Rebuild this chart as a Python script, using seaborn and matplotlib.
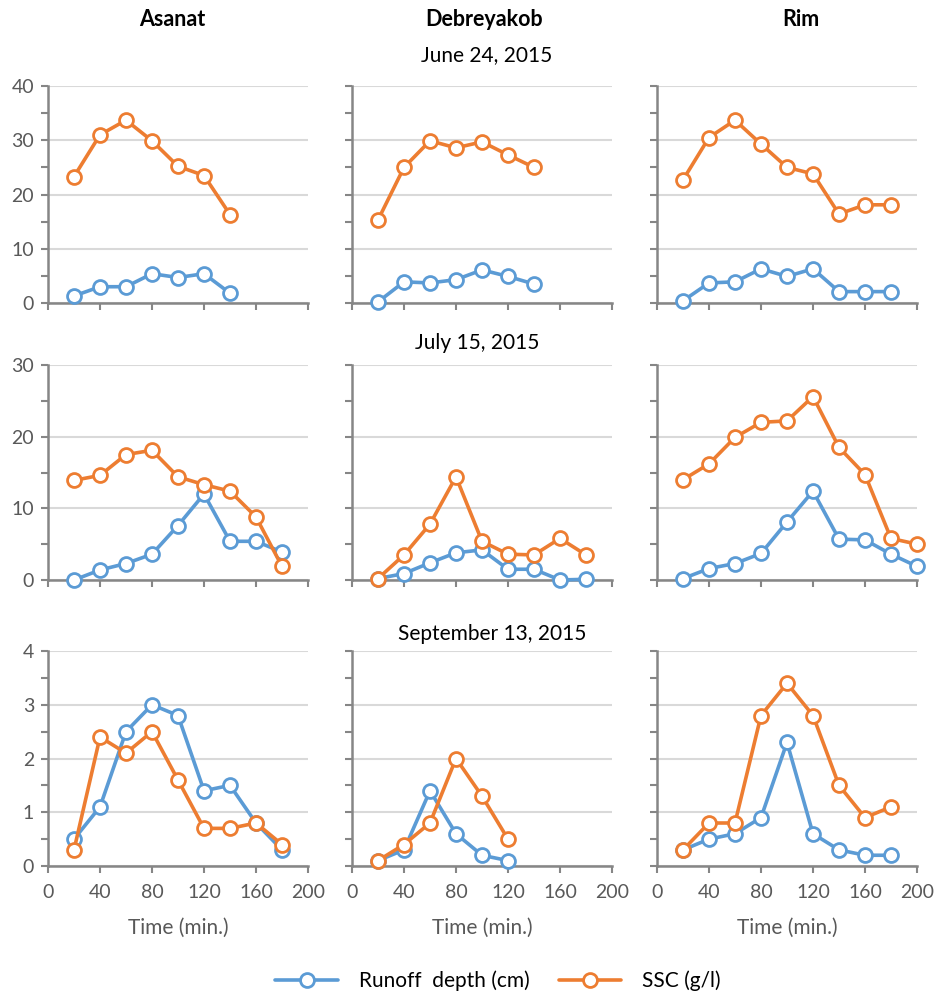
import numpy as np
import pandas as pd
import seaborn as sns
import matplotlib.pyplot as plt
from matplotlib.lines import Line2D
from matplotlib.ticker import MultipleLocator

# time steps (min.)
time = [20, 40, 60, 80, 100, 120, 140, 160, 180, 200]

sites = ["Asanat", "Debreyakob", "Rim"]
dates = ["June 24, 2015", "July 15, 2015", "September 13, 2015"]

# June 24, 2015
asanat_jun_runoff = [1.3, 3.0, 3.0, 5.4, 4.7, 5.4, 1.8]
asanat_jun_ssc = [23.3, 31.0, 33.7, 29.9, 25.2, 23.5, 16.3]
debre_jun_runoff = [0.2, 3.9, 3.7, 4.3, 6.1, 4.9, 3.5]
debre_jun_ssc = [15.3, 25.0, 29.9, 28.6, 29.7, 27.3, 25.0]
rim_jun_runoff = [0.4, 3.7, 3.9, 6.3, 4.9, 6.3, 2.1, 2.1, 2.1]
rim_jun_ssc = [22.7, 30.5, 33.7, 29.3, 25.0, 23.8, 16.4, 18.1, 18.1]

# July 15, 2015
asanat_jul_runoff = [0.0, 1.4, 2.3, 3.6, 7.6, 12.0, 5.4, 5.4, 3.9]
asanat_jul_ssc = [13.9, 14.6, 17.5, 18.1, 14.4, 13.3, 12.4, 8.8, 1.9]
debre_jul_runoff = [0.2, 0.9, 2.4, 3.8, 4.2, 1.5, 1.5, 0.0, 0.1]
debre_jul_ssc = [0.2, 3.5, 7.8, 14.4, 5.4, 3.6, 3.5, 5.8, 3.5]
rim_jul_runoff = [0.2, 1.6, 2.3, 3.7, 8.1, 12.4, 5.7, 5.6, 3.6, 1.9]
rim_jul_ssc = [14.0, 16.2, 19.9, 22.0, 22.2, 25.6, 18.5, 14.7, 5.8, 5.0]

# September 13, 2015
asanat_sep_runoff = [0.5, 1.1, 2.5, 3.0, 2.8, 1.4, 1.5, 0.8, 0.3]
asanat_sep_ssc = [0.3, 2.4, 2.1, 2.5, 1.6, 0.7, 0.7, 0.8, 0.4]
debre_sep_runoff = [0.1, 0.3, 1.4, 0.6, 0.2, 0.1]
debre_sep_ssc = [0.1, 0.4, 0.8, 2.0, 1.3, 0.5]
rim_sep_runoff = [0.3, 0.5, 0.6, 0.9, 2.3, 0.6, 0.3, 0.2, 0.2]
rim_sep_ssc = [0.3, 0.8, 0.8, 2.8, 3.4, 2.8, 1.5, 0.9, 1.1]

panels = [
    [(asanat_jun_runoff, asanat_jun_ssc), (debre_jun_runoff, debre_jun_ssc), (rim_jun_runoff, rim_jun_ssc)],
    [(asanat_jul_runoff, asanat_jul_ssc), (debre_jul_runoff, debre_jul_ssc), (rim_jul_runoff, rim_jul_ssc)],
    [(asanat_sep_runoff, asanat_sep_ssc), (debre_sep_runoff, debre_sep_ssc), (rim_sep_runoff, rim_sep_ssc)],
]
ymax = [40, 30, 4]
ystep = [10, 10, 1]

blue = "#5B9BD5"
orange = "#ED7D31"
grey = "#868686"
txt = "#595959"

sns.set_theme(style="white")
plt.rcParams["font.family"] = ["Lato", "DejaVu Sans"]

W, H = 941, 992
fig = plt.figure(figsize=(W / 100, H / 100), dpi=100)

col_x = [(48, 308), (352, 612), (657, 917)]
row_y = [(86, 303), (365, 580), (651, 866)]

for r in range(3):
    for c in range(3):
        x0, x1 = col_x[c]
        yt, yb = row_y[r]
        ax = fig.add_axes([x0 / W, 1 - yb / H, (x1 - x0) / W, (yb - yt) / H])
        runoff, ssc = panels[r][c]
        df = pd.DataFrame({"time": time[:len(runoff)], "runoff": runoff, "ssc": ssc})
        for col, color in [("runoff", blue), ("ssc", orange)]:
            sns.lineplot(data=df, x="time", y=col, ax=ax, color=color, lw=2.6,
                         marker="o", markersize=10, markerfacecolor="white",
                         markeredgecolor=color, markeredgewidth=2.0, clip_on=False,
                         zorder=3)
        ax.set_xlim(0, 200)
        ax.set_ylim(0, ymax[r])
        ax.xaxis.set_major_locator(MultipleLocator(40))
        ax.yaxis.set_major_locator(MultipleLocator(ystep[r]))
        ax.yaxis.set_minor_locator(MultipleLocator(ystep[r] / 2))
        ax.grid(axis="y", which="major", color="#D9D9D9", lw=1.5)
        ax.set_axisbelow(True)
        for s in ["top", "right"]:
            ax.spines[s].set_visible(False)
        for s in ["left", "bottom"]:
            ax.spines[s].set_color(grey)
            ax.spines[s].set_linewidth(1.8)
        ax.tick_params(axis="both", which="both", direction="out", length=5,
                       width=1.5, color=grey, labelcolor=txt, labelsize=14,
                       left=True, bottom=True, pad=5)
        ax.tick_params(axis="x", pad=8)
        ax.set_xlabel("")
        ax.set_ylabel("")
        if c != 0:
            ax.tick_params(axis="y", labelleft=False)
        if r != 2:
            ax.tick_params(axis="x", labelbottom=False)
        else:
            ax.set_xlabel("Time (min.)", fontsize=15, color=txt, labelpad=12)

# column headings
for name, cx in zip(sites, [172, 484, 801]):
    fig.text(cx / W, 1 - 20 / H, name, ha="center", va="center",
             fontsize=15.5, fontweight="bold", color="black")

# date headings
for d, cx, cy in zip(dates, [487, 477, 492], [55, 343, 634]):
    fig.text(cx / W, 1 - cy / H, d, ha="center", va="center",
             fontsize=15, color="black")

handles = [
    Line2D([], [], color=blue, lw=2.6, marker="o", markersize=10,
           markerfacecolor="white", markeredgecolor=blue, markeredgewidth=2.0),
    Line2D([], [], color=orange, lw=2.6, marker="o", markersize=10,
           markerfacecolor="white", markeredgecolor=orange, markeredgewidth=2.0),
]
fig.legend(handles, ["Runoff  depth (cm)", "SSC (g/l)"], loc="center",
           bbox_to_anchor=(498 / W, 1 - 981 / H), ncol=2, frameon=False,
           fontsize=15, handlelength=3.0, handletextpad=1.0,
           columnspacing=1.4, labelcolor="black")

fig.savefig("out.png", dpi=100)
